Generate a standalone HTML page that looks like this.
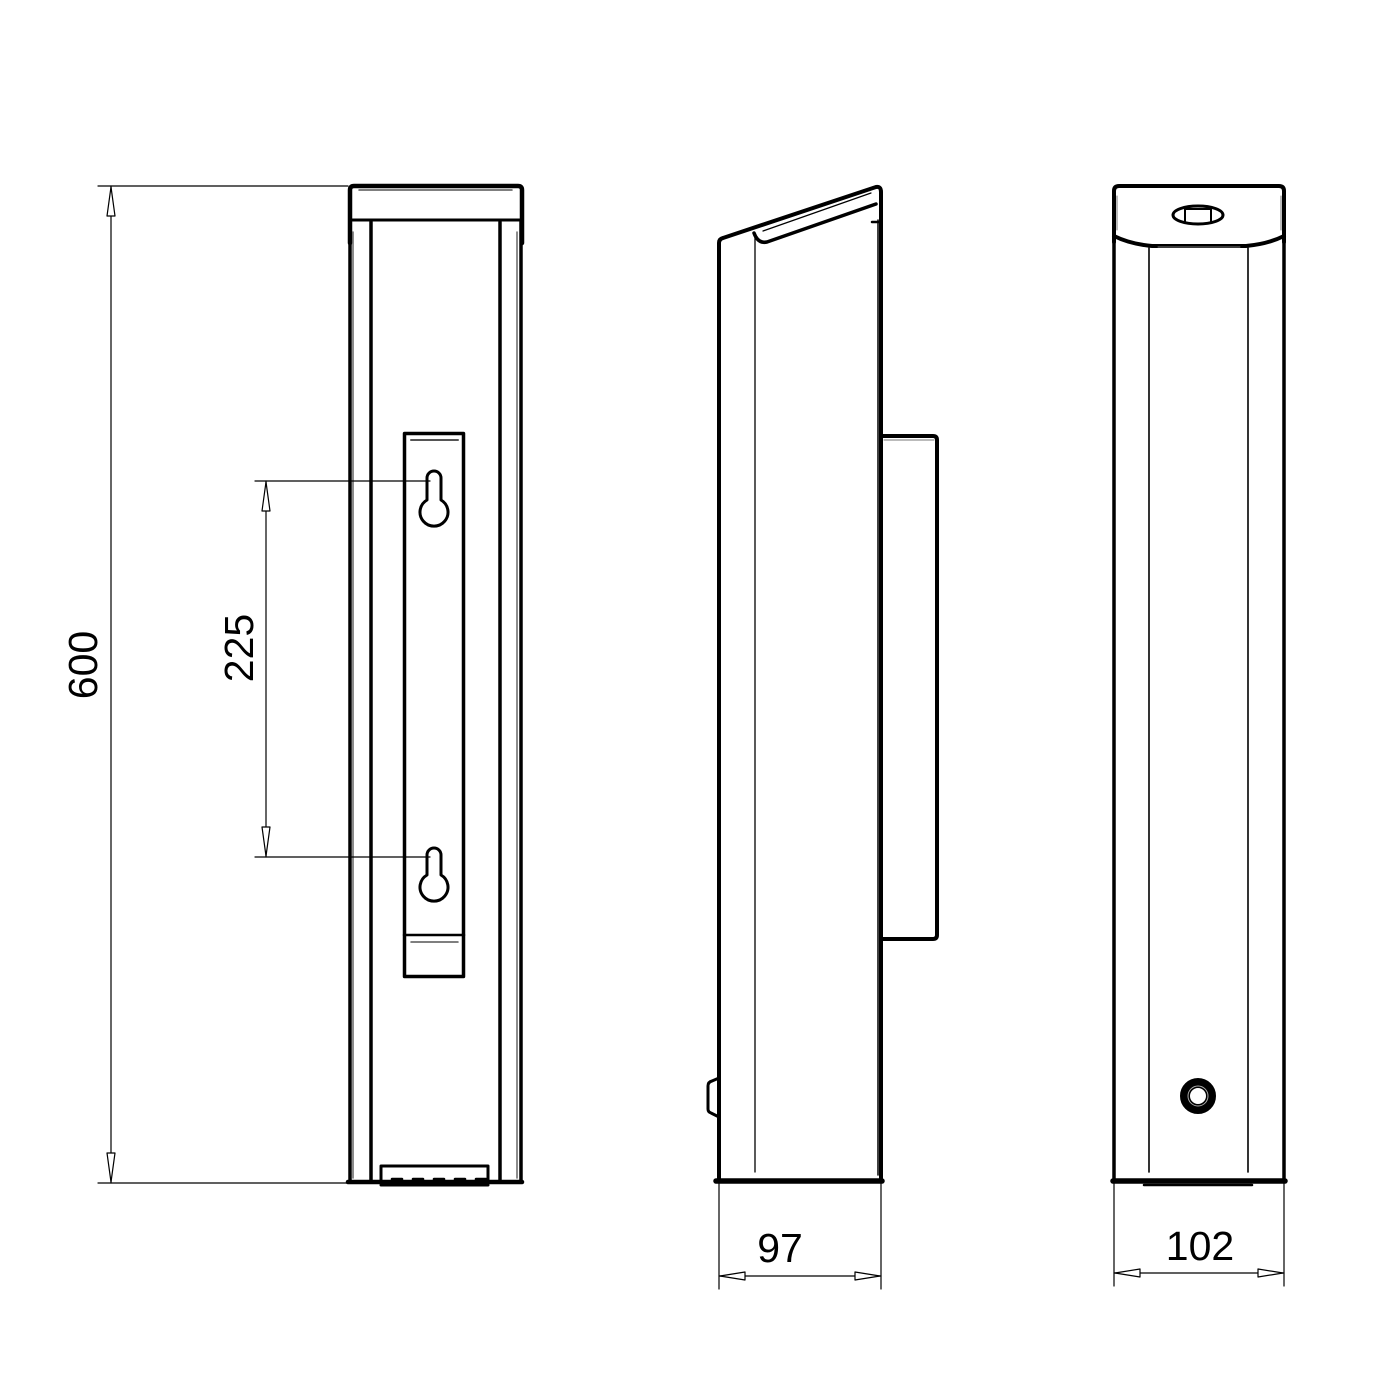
<!DOCTYPE html>
<html><head><meta charset="utf-8"><style>
html,body{margin:0;padding:0;background:#fff;}
svg{display:block;}
text{font-family:"Liberation Sans",sans-serif;fill:#000;}
</style></head><body>
<svg width="1400" height="1400" viewBox="0 0 1400 1400" xmlns="http://www.w3.org/2000/svg">
<g fill="none" stroke="#000" stroke-linecap="round" stroke-linejoin="round">

<!-- ===== LEFT VIEW (back) ===== -->
<path d="M350 243 L350 190 Q350 186 354 186 L518 186 Q522 186 522 190 L522 243" stroke-width="4.5"/>
<line x1="359" y1="190" x2="512" y2="190" stroke-width="1.5" stroke="#555"/>
<line x1="352" y1="220" x2="520" y2="220" stroke-width="3"/>
<line x1="350" y1="222" x2="350" y2="1182" stroke-width="3.5"/>
<line x1="353" y1="232" x2="353" y2="1178" stroke-width="1.5" stroke="#666"/>
<line x1="371" y1="222" x2="371" y2="1180" stroke-width="3.5"/>
<line x1="500" y1="222" x2="500" y2="1180" stroke-width="3.5"/>
<line x1="517" y1="232" x2="517" y2="1178" stroke-width="1.5" stroke="#666"/>
<line x1="521" y1="222" x2="521" y2="1182" stroke-width="3.5"/>
<line x1="348" y1="1182" x2="522" y2="1182" stroke-width="4.5"/>
<path d="M381 1183 L381 1166 L488 1166 L488 1183" stroke-width="3"/>
<line x1="381" y1="1185" x2="488" y2="1185" stroke-width="3"/>
<rect x="392" y="1179" width="10" height="5" stroke-width="2.5"/>
<rect x="413" y="1179" width="10" height="5" stroke-width="2.5"/>
<rect x="434" y="1179" width="10" height="5" stroke-width="2.5"/>
<rect x="455" y="1179" width="10" height="5" stroke-width="2.5"/>
<rect x="476" y="1179" width="10" height="5" stroke-width="2.5"/>
<rect x="404.5" y="433.5" width="59" height="543" stroke-width="3.5"/>
<line x1="411" y1="440" x2="458" y2="440" stroke-width="2" stroke="#555"/>
<line x1="404" y1="935" x2="464" y2="935" stroke-width="2.5"/>
<line x1="411" y1="942" x2="458" y2="942" stroke-width="1.5" stroke="#555"/>
<!-- keyholes -->
<path d="M427 500 L427 478 A7 7 0 0 1 441 478 L441 500 A14 14 0 1 1 427 500 Z" stroke-width="3"/>
<path d="M427 875 L427 855 A7 7 0 0 1 441 855 L441 875 A14 14 0 1 1 427 875 Z" stroke-width="3"/>

<g stroke-width="1.2">
<line x1="98" y1="186" x2="348" y2="186"/>
<line x1="98" y1="1183" x2="348" y2="1183"/>
<line x1="111" y1="186" x2="111" y2="1183"/>
<path d="M111 187 L115 216 L107 216 Z" fill="#fff"/>
<path d="M111 1182 L115 1153 L107 1153 Z" fill="#fff"/>
</g>
<g stroke-width="1.2">
<line x1="255" y1="481" x2="430" y2="481"/>
<line x1="255" y1="857" x2="430" y2="857"/>
<line x1="266" y1="481" x2="266" y2="857"/>
<path d="M266 482 L270 511 L262 511 Z" fill="#fff"/>
<path d="M266 856 L270 827 L262 827 Z" fill="#fff"/>
</g>

<!-- ===== MIDDLE VIEW (side) ===== -->
<path d="M719 1180 L719 243 Q719 239 723 238 L876 187 Q881 186 881 192 L881 1180" stroke-width="4"/>
<line x1="878" y1="220" x2="878" y2="1175" stroke-width="1.5"/>
<line x1="872" y1="222" x2="881" y2="222" stroke-width="2.5"/>
<line x1="755" y1="233" x2="755" y2="1172" stroke-width="1.3"/>
<path d="M754 233 Q758 244 767 242 L876 204" stroke-width="3.5"/>
<line x1="763" y1="231" x2="871" y2="193" stroke-width="1.2"/>
<line x1="716" y1="1181" x2="882" y2="1181" stroke-width="5.5"/>
<path d="M882 436 L933 436 Q937 436 937 440 L937 935 Q937 939 933 939 L882 939" stroke-width="4"/>
<line x1="884" y1="440" x2="934" y2="440" stroke-width="1" stroke="#777"/>
<path d="M719 1078 L712 1081 Q708 1082 708 1086 L708 1109 Q708 1112 711 1113 L719 1117" stroke-width="3"/>
<g stroke-width="1.2">
<line x1="719" y1="1183" x2="719" y2="1289"/>
<line x1="881" y1="1183" x2="881" y2="1289"/>
<line x1="719" y1="1276" x2="881" y2="1276"/>
<path d="M720 1276 L745 1272 L745 1280 Z" fill="#fff"/>
<path d="M880 1276 L855 1272 L855 1280 Z" fill="#fff"/>
</g>

<!-- ===== RIGHT VIEW (front) ===== -->
<path d="M1114 242 L1114 191 Q1114 186 1119 186 L1279 186 Q1284 186 1284 191 L1284 242" stroke-width="4"/>
<line x1="1117" y1="196" x2="1117" y2="230" stroke-width="1" stroke="#777"/>
<line x1="1281" y1="196" x2="1281" y2="230" stroke-width="1" stroke="#777"/>
<path d="M1114 236 Q1130 244 1152 246 L1246 246 Q1268 244 1284 236" stroke-width="4"/>
<line x1="1158" y1="247" x2="1240" y2="247" stroke-width="1" stroke="#777"/>
<line x1="1114" y1="240" x2="1114" y2="1181" stroke-width="3.5"/>
<line x1="1284" y1="240" x2="1284" y2="1181" stroke-width="3.5"/>
<line x1="1149" y1="248" x2="1149" y2="1172" stroke-width="1.6"/>
<line x1="1248" y1="248" x2="1248" y2="1172" stroke-width="1.6"/>
<line x1="1113" y1="1181" x2="1285" y2="1181" stroke-width="5.5"/>
<line x1="1144" y1="1185" x2="1252" y2="1185" stroke-width="2.5"/>
<ellipse cx="1198" cy="215" rx="25" ry="9" stroke-width="3"/>
<line x1="1185" y1="207" x2="1185" y2="223" stroke-width="2"/>
<line x1="1211" y1="207" x2="1211" y2="223" stroke-width="2"/>
<line x1="1185" y1="209" x2="1211" y2="209" stroke-width="2"/>
<!-- lock -->
<circle cx="1198" cy="1096" r="13" stroke-width="10"/>
<circle cx="1198" cy="1096" r="10" stroke-width="1" stroke="#aaa"/>
<path d="M1192 1101 L1192 1096 A6 6 0 0 1 1204 1096 L1204 1101 Z" fill="#fff" stroke-width="0"/>
<g stroke-width="1.2">
<line x1="1114" y1="1183" x2="1114" y2="1286"/>
<line x1="1284" y1="1183" x2="1284" y2="1286"/>
<line x1="1114" y1="1273" x2="1284" y2="1273"/>
<path d="M1115 1273 L1140 1269 L1140 1277 Z" fill="#fff"/>
<path d="M1283 1273 L1258 1269 L1258 1277 Z" fill="#fff"/>
</g>
</g>

<text x="780" y="1262" font-size="41" text-anchor="middle">97</text>
<text x="1200" y="1260" font-size="41" text-anchor="middle">102</text>
<text transform="translate(97,665) rotate(-90)" font-size="41" text-anchor="middle">600</text>
<text transform="translate(253,648) rotate(-90)" font-size="41" text-anchor="middle">225</text>
</svg>
</body></html>
